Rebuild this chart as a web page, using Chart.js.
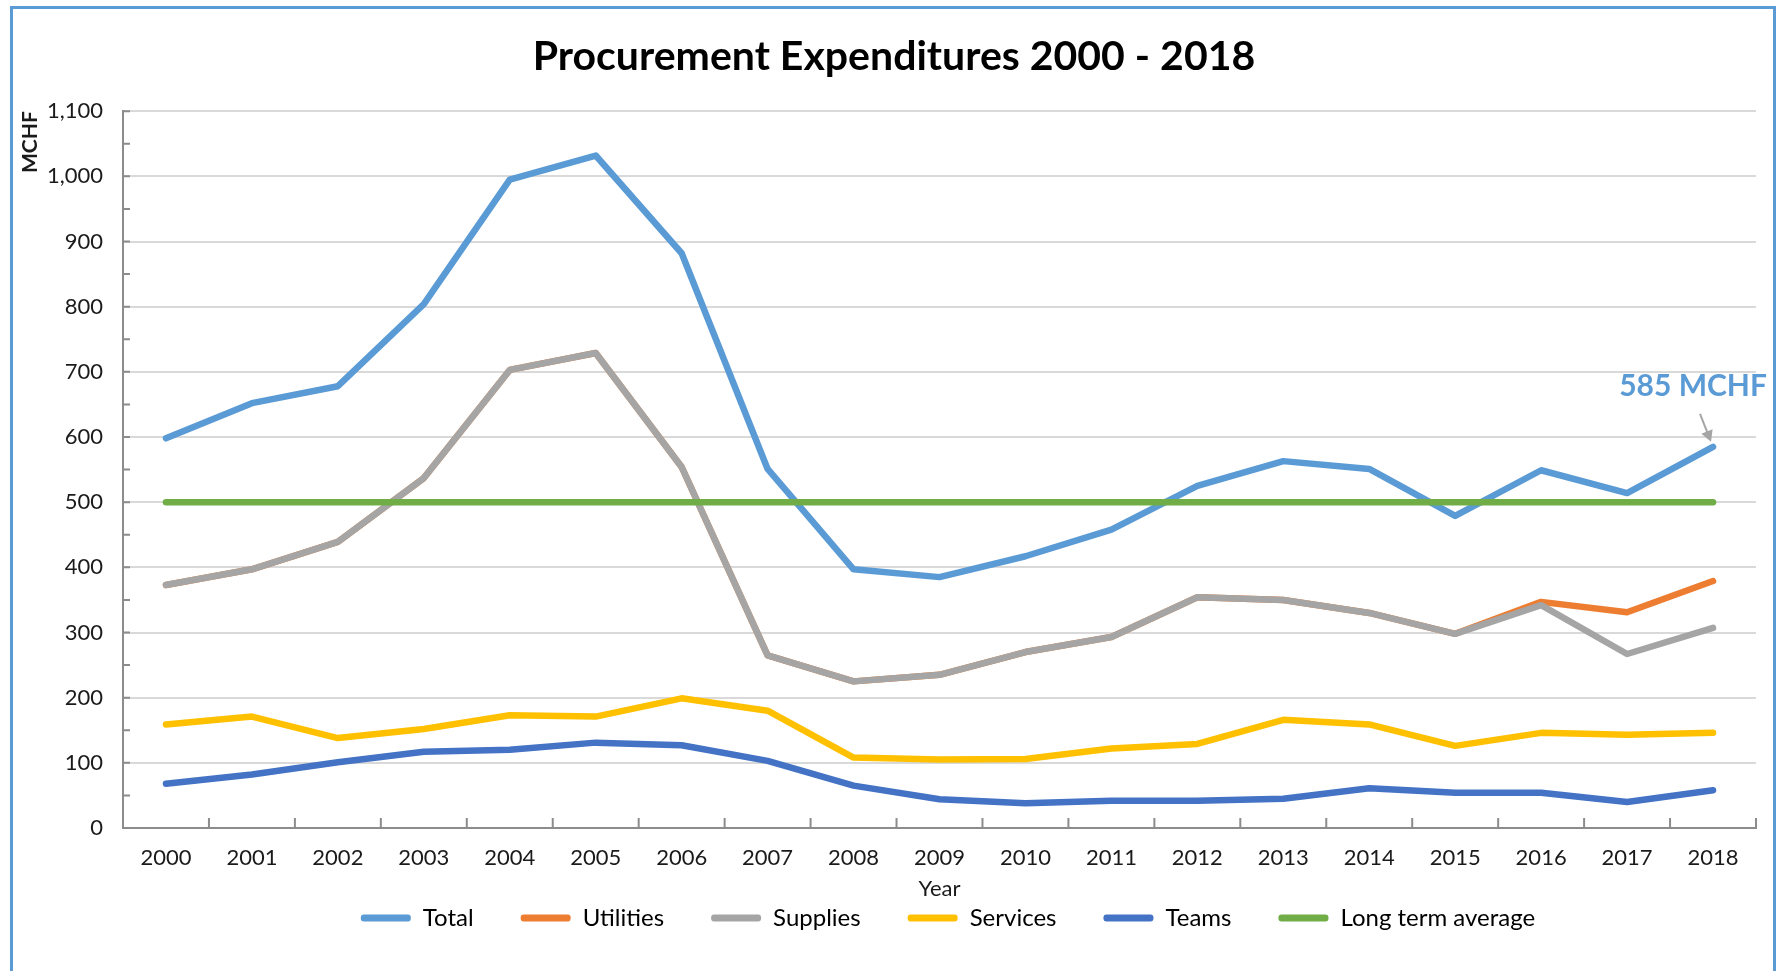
<!DOCTYPE html>
<html>
<head>
<meta charset="utf-8">
<script src="https://cdn.jsdelivr.net/npm/chart.js@4.4.1/dist/chart.umd.min.js"></script>
<style>
  html, body { margin: 0; padding: 0; background: #fff; overflow: hidden; }
  #frame {
    position: absolute; left: 10px; top: 6px;
    width: 1760px; height: 1100px;
    border: 3px solid #5B9BD5;
  }
  #wrap { position: absolute; left: 0; top: 0; width: 1781px; height: 971px; }
</style>
</head>
<body>
<div id="frame"></div>
<div id="wrap"><canvas id="chart" width="1781" height="971"></canvas></div>
<script>
// -------------------------
// DATA (MCHF)
// -------------------------
const years = ["2000", "2001", "2002", "2003", "2004", "2005", "2006", "2007", "2008", "2009",
               "2010", "2011", "2012", "2013", "2014", "2015", "2016", "2017", "2018"];

const total     = [598, 652, 678, 804, 995, 1032, 882, 551, 397, 385, 417, 458, 525, 563, 551, 479, 549, 514, 585];
const utilities = [373, 397, 439, 537, 703, 729, 554, 265, 225, 235, 270, 293, 354, 350, 330, 298, 347, 331, 379];
const supplies  = [373, 397, 439, 537, 703, 729, 554, 265, 225, 235, 270, 293, 354, 350, 330, 298, 342, 267, 307];
const services  = [159, 171, 138, 152, 173, 171, 199, 180, 108, 105, 106, 122, 129, 166, 159, 126, 146, 143, 146];
const teams     = [68, 82, 101, 117, 120, 131, 127, 103, 65, 44, 38, 42, 42, 45, 61, 54, 54, 40, 58];
const longTermAverage = [500, 500, 500, 500, 500, 500, 500, 500, 500, 500,
                         500, 500, 500, 500, 500, 500, 500, 500, 500];

const yMin = 0;
const yMax = 1100;
const yStep = 100;

// -------------------------
// PLUGINS
// -------------------------
// Excel style tick marks drawn inside the plot
const insideTicks = {
    id: "insideTicks",
    afterDraw(chart) {
        const ctx = chart.ctx;
        const x = chart.scales.x;
        const y = chart.scales.y;
        ctx.save();
        ctx.strokeStyle = "#8c8c8c";
        ctx.lineWidth = 2;
        ctx.beginPath();
        for (let v = yMin; v <= yMax; v += yStep / 2) {
            const py = y.getPixelForValue(v);
            ctx.moveTo(x.left, py);
            ctx.lineTo(x.left + 7, py);
        }
        for (let i = 0; i <= years.length; i++) {
            let px;
            if (i === 0) px = x.left;
            else if (i === years.length) px = x.right;
            else px = (x.getPixelForValue(i - 1) + x.getPixelForValue(i)) / 2;
            ctx.moveTo(px, y.bottom);
            ctx.lineTo(px, y.bottom - 10);
        }
        ctx.stroke();
        ctx.restore();
    }
};

// nudge title and legend to where Excel put them
const boxShift = {
    id: "boxShift",
    afterLayout(chart) {
        const lg = chart.legend;
        lg.top -= 19;
        lg.bottom -= 19;
        lg.left += 70;
        lg.right += 70;
        const tb = chart.titleBlock;
        tb.left += 16;
        tb.right += 16;
    }
};

// "585 MCHF" callout on the last Total point
const callout = {
    id: "callout",
    afterDatasetsDraw(chart) {
        const ctx = chart.ctx;
        const meta = chart.getDatasetMeta(0);
        const pt = meta.data[total.length - 1];
        ctx.save();
        ctx.font = "bold 30px Lato";
        ctx.fillStyle = "#5B9BD5";
        ctx.textAlign = "center";
        ctx.textBaseline = "middle";
        ctx.fillText(total[total.length - 1] + " MCHF", pt.x - 20, pt.y - 60);

        const x1 = pt.x - 13, y1 = pt.y - 33;
        const x2 = pt.x - 2, y2 = pt.y - 5;
        const ang = Math.atan2(y2 - y1, x2 - x1);
        ctx.strokeStyle = "#a5a5a5";
        ctx.fillStyle = "#a5a5a5";
        ctx.lineWidth = 2;
        ctx.beginPath();
        ctx.moveTo(x1, y1);
        ctx.lineTo(x2 - 8 * Math.cos(ang), y2 - 8 * Math.sin(ang));
        ctx.stroke();
        ctx.beginPath();
        ctx.moveTo(x2, y2);
        ctx.lineTo(x2 - 11 * Math.cos(ang) + 6 * Math.sin(ang), y2 - 11 * Math.sin(ang) - 6 * Math.cos(ang));
        ctx.lineTo(x2 - 11 * Math.cos(ang) - 6 * Math.sin(ang), y2 - 11 * Math.sin(ang) + 6 * Math.cos(ang));
        ctx.closePath();
        ctx.fill();
        ctx.restore();
    }
};

// -------------------------
// CHART
// -------------------------
Chart.defaults.font.family = "Lato";
Chart.defaults.color = "#1a1a1a";

function line(label, data, color, order) {
    return {
        label: label,
        data: data,
        borderColor: color,
        backgroundColor: color,
        borderWidth: 6.5,
        borderCapStyle: "round",
        borderJoinStyle: "round",
        pointRadius: 0,
        tension: 0,
        fill: false,
        order: order
    };
}

new Chart(document.getElementById("chart"), {
    type: "line",
    data: {
        labels: years,
        datasets: [
            line("Total", total, "#5B9BD5", 5),
            line("Utilities", utilities, "#ED7D31", 4),
            line("Supplies", supplies, "#A5A5A5", 3),
            line("Services", services, "#FFC000", 2),
            line("Teams", teams, "#4472C4", 1),
            line("Long term average", longTermAverage, "#70AD47", 0)
        ]
    },
    options: {
        responsive: false,
        animation: false,
        layout: { padding: { left: 0, right: 25, top: 0, bottom: 12 } },
        plugins: {
            tooltip: { enabled: false },
            title: {
                display: true,
                text: "Procurement Expenditures 2000 - 2018",
                color: "#000",
                font: { size: 41, weight: "bold" },
                padding: { top: 32, bottom: 30 }
            },
            legend: {
                position: "bottom",
                labels: {
                    boxWidth: 50,
                    boxHeight: 7,
                    padding: 47,
                    font: { size: 24 },
                    color: "#1a1a1a",
                    useBorderRadius: true,
                    generateLabels(chart) {
                        return chart.data.datasets.map((ds, i) => ({
                            text: ds.label,
                            fillStyle: ds.borderColor,
                            strokeStyle: ds.borderColor,
                            lineWidth: 0,
                            borderRadius: 3,
                            hidden: false,
                            datasetIndex: i
                        }));
                    }
                }
            }
        },
        scales: {
            x: {
                offset: true,
                grid: { display: false, drawTicks: false },
                border: { display: true, color: "#8c8c8c", width: 2 },
                ticks: { padding: 17, font: { size: 22 }, color: "#1a1a1a", maxRotation: 0 },
                title: {
                    display: true,
                    text: "Year",
                    font: { size: 22 },
                    color: "#1a1a1a",
                    padding: { top: 0, bottom: -24 }
                },
                afterFit(scale) { scale.height = 50; }
            },
            y: {
                min: yMin,
                max: yMax,
                ticks: { stepSize: yStep, padding: 20, font: { size: 22 }, color: "#1a1a1a" },
                grid: { color: "#d9d9d9", lineWidth: 2, drawTicks: false },
                border: { display: true, color: "#8c8c8c", width: 2 },
                title: {
                    display: true,
                    text: "MCHF",
                    align: "end",
                    font: { size: 21, weight: "bold" },
                    color: "#1a1a1a",
                    padding: { top: 18 }
                },
                afterFit(scale) { scale.width = 123; }
            }
        }
    },
    plugins: [insideTicks, boxShift, callout]
});
</script>
</body>
</html>
